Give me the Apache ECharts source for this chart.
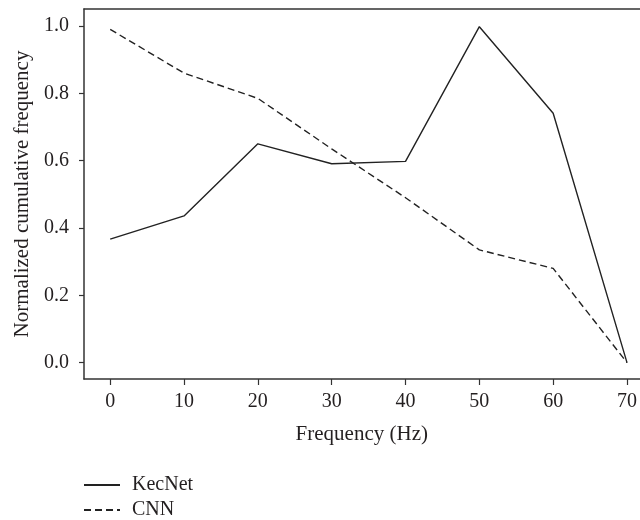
<!DOCTYPE html>
<html>
<head>
<meta charset="utf-8">
<script src="https://cdn.jsdelivr.net/npm/echarts@6/dist/echarts.min.js"></script>
<style>html,body{margin:0;padding:0;background:#fff}#c{width:640px;height:520px}</style>
</head>
<body>
<div id="c"></div>
<script>
var freqs = [0, 10, 20, 30, 40, 50, 60, 70];
var kecnet = [0.367, 0.436, 0.650, 0.591, 0.598, 0.998, 0.741, 0.0];
var cnn = [0.990, 0.860, 0.785, 0.635, 0.490, 0.335, 0.280, 0.0];
var xTicks = [0, 10, 20, 30, 40, 50, 60, 70];
var yTicks = [0.0, 0.2, 0.4, 0.6, 0.8, 1.0];
var seriesNames = ['KecNet', 'CNN'];

var font = 'Liberation Serif';
var ink = '#231f20';
function pairs(xs, ys) { return xs.map(function (x, i) { return [x, ys[i]]; }); }
function legendFor(name, top) {
  return {
    orient: 'vertical', left: 83, top: top, padding: 0,
    itemWidth: 36, itemHeight: 10,
    itemStyle: { opacity: 0 },
    textStyle: { fontFamily: font, fontSize: 20, color: ink, lineHeight: 20, padding: [0, 0, 0, 7] },
    data: [name]
  };
}
var axisLineStyle = { color: '#333', width: 1.5 };

var chart = echarts.init(document.getElementById('c'));
chart.setOption({
  animation: false,
  backgroundColor: '#fff',
  grid: { left: 84, top: 9, right: 0, bottom: 141, show: false },
  legend: [legendFor(seriesNames[0], 475), legendFor(seriesNames[1], 500)],
  xAxis: [{
    type: 'value', min: -3.55, max: 71.7, position: 'bottom',
    name: 'Frequency (Hz)', nameLocation: 'middle', nameGap: 45,
    nameTextStyle: { fontFamily: font, fontSize: 21, color: ink },
    axisLine: { show: true, onZero: false, lineStyle: axisLineStyle },
    axisTick: { show: true, length: 6, lineStyle: { color: '#333', width: 1.2 }, customValues: xTicks },
    axisLabel: { fontFamily: font, fontSize: 20, color: ink, margin: 13, customValues: xTicks },
    splitLine: { show: false }
  }, {
    type: 'value', min: -3.55, max: 71.7, position: 'top',
    axisLine: { show: true, onZero: false, lineStyle: axisLineStyle },
    axisTick: { show: false }, axisLabel: { show: false }, splitLine: { show: false }
  }],
  yAxis: {
    type: 'value', min: -0.0485, max: 1.0505,
    name: 'Normalized cumulative frequency', nameLocation: 'middle', nameGap: 50,
    nameTextStyle: { fontFamily: font, fontSize: 21, color: ink },
    axisLine: { show: true, onZero: false, lineStyle: axisLineStyle },
    axisTick: { show: true, length: 5, lineStyle: { color: '#333', width: 1.2 }, customValues: yTicks },
    axisLabel: { fontFamily: font, fontSize: 20, color: ink, margin: 15, customValues: yTicks,
      formatter: function (v) { return v.toFixed(1); } },
    splitLine: { show: false }
  },
  series: [
    { name: seriesNames[0], type: 'line', data: pairs(freqs, kecnet), symbol: 'none',
      lineStyle: { color: '#222', width: 1.4, type: 'solid' }, itemStyle: { color: '#222' } },
    { name: seriesNames[1], type: 'line', data: pairs(freqs, cnn), symbol: 'none',
      lineStyle: { color: '#222', width: 1.4, type: [7, 4] }, itemStyle: { color: '#222' } }
  ]
});
</script>
</body>
</html>
